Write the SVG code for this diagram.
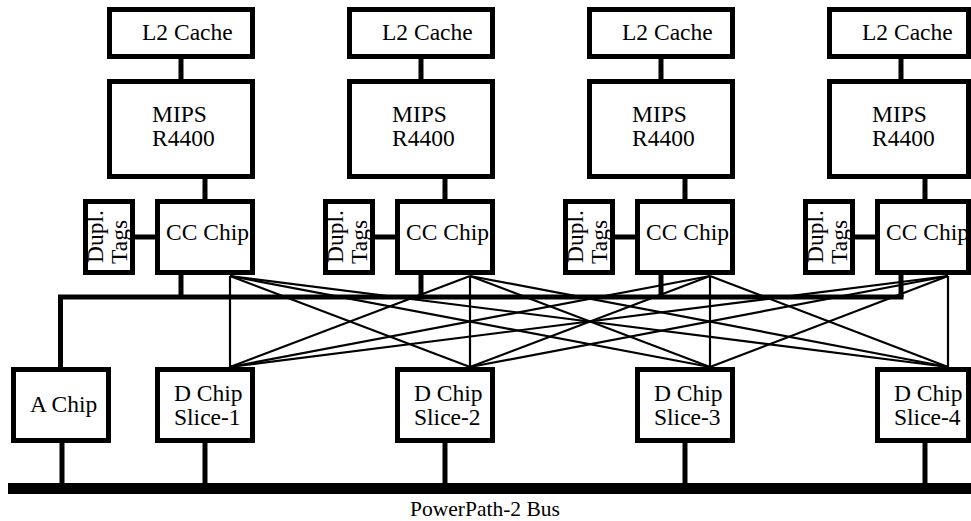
<svg xmlns="http://www.w3.org/2000/svg" width="971" height="521" viewBox="0 0 971 521">
<style>
.box{fill:#fff;stroke:#000;stroke-width:5}
.t{font-family:"Liberation Serif","Times New Roman",serif;font-size:23.5px;fill:#000}
.thick{stroke:#000;stroke-width:5;fill:none}
.thin{stroke:#000;stroke-width:2.2;fill:none}
</style>
<rect width="971" height="521" fill="#fff"/>
<g id="connectors">
  <g class="thick">
    <line x1="181" y1="59" x2="181" y2="79"/><line x1="421" y1="59" x2="421" y2="79"/><line x1="661" y1="59" x2="661" y2="79"/><line x1="901" y1="59" x2="901" y2="79"/>
    <line x1="205" y1="179" x2="205" y2="199"/><line x1="445" y1="179" x2="445" y2="199"/><line x1="685" y1="179" x2="685" y2="199"/><line x1="925" y1="179" x2="925" y2="199"/>
    <line x1="135" y1="237" x2="155" y2="237"/><line x1="375" y1="237" x2="395" y2="237"/><line x1="615" y1="237" x2="635" y2="237"/><line x1="855" y1="237" x2="875" y2="237"/>
    <line x1="181" y1="275" x2="181" y2="297"/><line x1="421" y1="275" x2="421" y2="297"/><line x1="661" y1="275" x2="661" y2="297"/><line x1="901" y1="275" x2="901" y2="297"/>
    <polyline points="60.5,367 60.5,297 903.5,297"/>
    <line x1="62" y1="443" x2="62" y2="483"/><line x1="205" y1="443" x2="205" y2="483"/><line x1="445" y1="443" x2="445" y2="483"/><line x1="685" y1="443" x2="685" y2="483"/><line x1="925" y1="443" x2="925" y2="483"/>
  </g>
  <g class="thin">
    <line x1="230" y1="276" x2="230" y2="367"/><line x1="230" y1="276" x2="470" y2="367"/><line x1="230" y1="276" x2="710" y2="367"/><line x1="230" y1="276" x2="948" y2="367"/>
    <line x1="470" y1="276" x2="230" y2="367"/><line x1="470" y1="276" x2="470" y2="367"/><line x1="470" y1="276" x2="710" y2="367"/><line x1="470" y1="276" x2="948" y2="367"/>
    <line x1="710" y1="276" x2="230" y2="367"/><line x1="710" y1="276" x2="470" y2="367"/><line x1="710" y1="276" x2="710" y2="367"/><line x1="710" y1="276" x2="948" y2="367"/>
    <line x1="948" y1="276" x2="230" y2="367"/><line x1="948" y1="276" x2="470" y2="367"/><line x1="948" y1="276" x2="710" y2="367"/><line x1="948" y1="276" x2="948" y2="367"/>
  </g>
</g>
<g id="l2-1"><rect class="box" x="109.5" y="9.5" width="143" height="47"/><text class="t" x="142" y="40">L2 Cache</text></g>
<g id="l2-2"><rect class="box" x="349.5" y="9.5" width="143" height="47"/><text class="t" x="382" y="40">L2 Cache</text></g>
<g id="l2-3"><rect class="box" x="589.5" y="9.5" width="143" height="47"/><text class="t" x="622" y="40">L2 Cache</text></g>
<g id="l2-4"><rect class="box" x="829.5" y="9.5" width="139" height="47"/><text class="t" x="862" y="40">L2 Cache</text></g>
<g id="mips-1"><rect class="box" x="109.5" y="81.5" width="143" height="95"/><text class="t" x="152" y="122">MIPS</text><text class="t" x="152" y="146">R4400</text></g>
<g id="mips-2"><rect class="box" x="349.5" y="81.5" width="143" height="95"/><text class="t" x="392" y="122">MIPS</text><text class="t" x="392" y="146">R4400</text></g>
<g id="mips-3"><rect class="box" x="589.5" y="81.5" width="143" height="95"/><text class="t" x="632" y="122">MIPS</text><text class="t" x="632" y="146">R4400</text></g>
<g id="mips-4"><rect class="box" x="829.5" y="81.5" width="139" height="95"/><text class="t" x="872" y="122">MIPS</text><text class="t" x="872" y="146">R4400</text></g>
<g id="tags-1"><rect class="box" x="85.5" y="201.5" width="47" height="71"/><text class="t" transform="translate(103,263) rotate(-90)">Dupl.</text><text class="t" transform="translate(126.5,264) rotate(-90)">Tags</text></g>
<g id="tags-2"><rect class="box" x="325.5" y="201.5" width="47" height="71"/><text class="t" transform="translate(343,263) rotate(-90)">Dupl.</text><text class="t" transform="translate(366.5,264) rotate(-90)">Tags</text></g>
<g id="tags-3"><rect class="box" x="565.5" y="201.5" width="47" height="71"/><text class="t" transform="translate(583,263) rotate(-90)">Dupl.</text><text class="t" transform="translate(606.5,264) rotate(-90)">Tags</text></g>
<g id="tags-4"><rect class="box" x="805.5" y="201.5" width="47" height="71"/><text class="t" transform="translate(823,263) rotate(-90)">Dupl.</text><text class="t" transform="translate(846.5,264) rotate(-90)">Tags</text></g>
<g id="cc-1"><rect class="box" x="157.5" y="201.5" width="95" height="71"/><text class="t" x="166" y="240">CC Chip</text></g>
<g id="cc-2"><rect class="box" x="397.5" y="201.5" width="95" height="71"/><text class="t" x="406" y="240">CC Chip</text></g>
<g id="cc-3"><rect class="box" x="637.5" y="201.5" width="95" height="71"/><text class="t" x="646" y="240">CC Chip</text></g>
<g id="cc-4"><rect class="box" x="877.5" y="201.5" width="91" height="71"/><text class="t" x="886" y="240">CC Chip</text></g>
<g id="a-chip"><rect class="box" x="13.5" y="369.5" width="95" height="71"/><text class="t" x="30" y="412">A Chip</text></g>
<g id="d-1"><rect class="box" x="157.5" y="369.5" width="95" height="71"/><text class="t" x="174" y="401">D Chip</text><text class="t" x="174" y="424.5">Slice-1</text></g>
<g id="d-2"><rect class="box" x="397.5" y="369.5" width="95" height="71"/><text class="t" x="414" y="401">D Chip</text><text class="t" x="414" y="424.5">Slice-2</text></g>
<g id="d-3"><rect class="box" x="637.5" y="369.5" width="95" height="71"/><text class="t" x="654" y="401">D Chip</text><text class="t" x="654" y="424.5">Slice-3</text></g>
<g id="d-4"><rect class="box" x="877.5" y="369.5" width="91" height="71"/><text class="t" x="894" y="401">D Chip</text><text class="t" x="894" y="424.5">Slice-4</text></g>
<g id="bus"><rect x="8" y="483" width="963" height="11" fill="#000"/><text class="t" x="485" y="516" text-anchor="middle" style="font-size:21.5px">PowerPath-2 Bus</text></g>
</svg>
